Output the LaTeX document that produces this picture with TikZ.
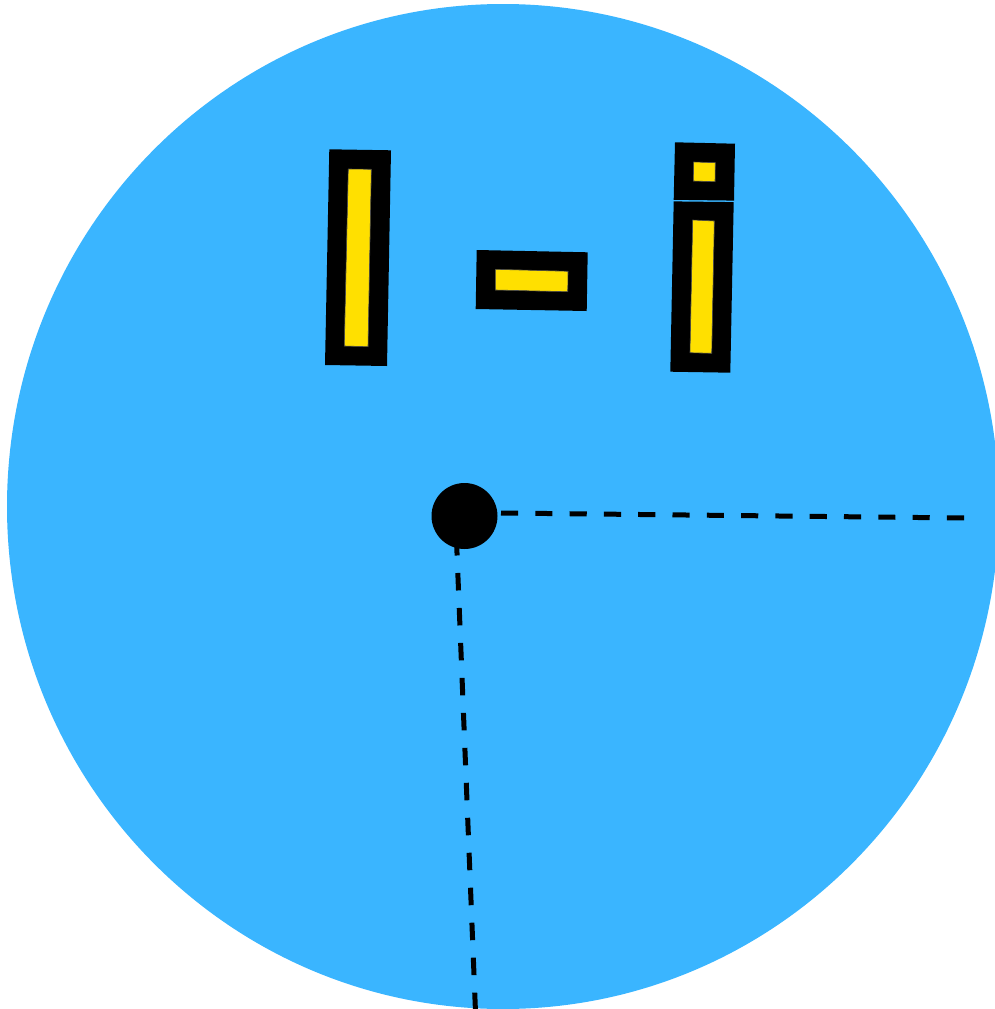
\documentclass[tikz,border=0pt]{standalone}
\definecolor{skyblue}{RGB}{58,181,255}
\definecolor{baryellow}{RGB}{255,224,0}
\tikzset{
  outerbar/.style={fill=black},
  innerbar/.style={fill=baryellow, draw=black!70, line width=0.6pt},
  dashline/.style={draw=black, line width=5pt},
  centerdot/.style={circle, fill=black, inner sep=0pt, minimum size=66pt}
}
\begin{document}
\begin{tikzpicture}[x=1pt,y=-1pt]
\useasboundingbox (0,0) rectangle (995,1009);
\clip (0,0) rectangle (995,1009);
% disc
\fill[skyblue] (503,506.5) ellipse[x radius=496, y radius=502.5];
% left tall bar
\fill[outerbar] (329.3,149.3) -- (391,150.3) -- (387,366) -- (325,365) -- cycle;
\filldraw[innerbar] (348.3,169) -- (371.3,169.3) -- (368,346.7) -- (344.3,346) -- cycle;
% middle bar
\fill[outerbar] (476.7,250) -- (587.7,252.3) -- (586.7,311) -- (475.7,309) -- cycle;
\filldraw[innerbar] (495.3,269.3) -- (568,271.3) -- (567.7,291.7) -- (495.3,290) -- cycle;
% right small square
\fill[outerbar] (675,142.3) -- (735,143.7) -- (734,200.6) -- (673.7,199.8) -- cycle;
\filldraw[innerbar] (693.7,162) -- (715.3,162.7) -- (715,181.7) -- (693.3,181) -- cycle;
% right tall bar
\fill[outerbar] (673.7,201.4) -- (733.7,202.1) -- (730.3,372.7) -- (670.3,371.7) -- cycle;
\filldraw[innerbar] (692.7,220) -- (714.3,221) -- (711.7,353.3) -- (690,352.7) -- cycle;
% dashed connectors
\coordinate (hstart) at (501,513);
\coordinate (hend) at (965,518);
\coordinate (vstart) at (456.4,538);
\coordinate (vend) at (475.5,1012);
\draw[dashline, dash pattern=on 17.15pt off 17.15pt] (hstart) -- (hend);
\draw[dashline, dash pattern=on 17.5pt off 17.5pt] (vstart) -- (vend);
% centre dot
\node[centerdot] (dot) at (464.5,516) {};
\end{tikzpicture}
\end{document}
